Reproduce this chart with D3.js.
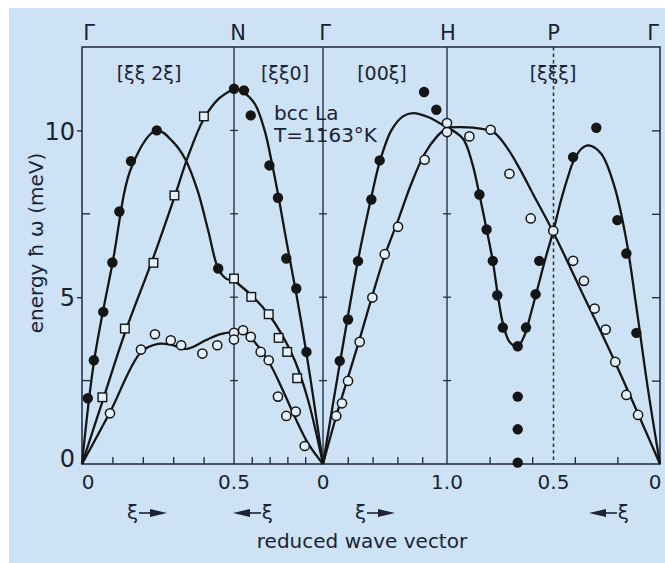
<!DOCTYPE html>
<html><head><meta charset="utf-8">
<script src="https://cdn.jsdelivr.net/npm/d3@7"></script>
<style>body{margin:0;background:#fff}svg{display:block}</style>
</head><body>
<svg id="c" width="665" height="563"></svg>
<script>
// ================= DATA =================
const directionLabels = ["[ξξ 2ξ]", "[ξξ0]", "[00ξ]", "[ξξξ]"];
const pointLabels = ["Γ", "N", "Γ", "H", "P", "Γ"];
const yTickLabels = [0, 5, 10];
const yMinorTicks = [2.5, 7.5];
// ξ ranges of each segment (start -> end, left to right)
const segDomains = [[0, 0.5], [0.5, 0], [0, 1], [1, 0]];
const xTicks = [[0.1, 0.2, 0.3, 0.4], [0.4, 0.3, 0.2, 0.1], [0.2, 0.4, 0.6, 0.8], [0.8, 0.6, 0.4, 0.2]];
const xTickLabels = [[[0, "0"], [0.5, "0.5"]], [[0, "0"]], [[1, "1.0"]], [[0.5, "0.5"], [0, "0"]]];

// --- segment 1: Γ–N [ξξ2ξ]
const s1Filled = [[0.019,1.97],[0.039,3.11],[0.070,4.56],[0.100,6.04],[0.123,7.57],[0.161,9.08],[0.246,10.0],[0.448,5.86]];
const s1Square = [[0.067,2.0],[0.141,4.06],[0.235,6.03],[0.304,8.05],[0.401,10.42]];
const s1Open = [[0.092,1.52],[0.194,3.43],[0.240,3.89],[0.292,3.71],[0.326,3.56],[0.396,3.31],[0.445,3.56],[0.5,3.93],[0.5,3.73]];
const s1CurveA = [[0,0],[0.04,3.1],[0.1,6.0],[0.165,8.95],[0.246,10.0],[0.3,9.65],[0.339,9.15],[0.38,8.2],[0.415,7.0],[0.448,5.86],[0.475,5.55],[0.5,5.5]];
const s1CurveB = [[0,0],[0.07,1.95],[0.14,3.9],[0.235,6.2],[0.304,8.0],[0.35,9.25],[0.401,10.35],[0.45,10.95],[0.5,11.25]];
const s1CurveC = [[0,0],[0.092,1.55],[0.194,3.35],[0.25,3.6],[0.292,3.58],[0.345,3.45],[0.405,3.7],[0.45,3.88],[0.5,3.96]];

// --- segment 2: N–Γ [ξξ0]
const s2Filled = [[0.5,11.25],[0.444,11.2],[0.406,10.45],[0.301,8.95],[0.253,7.98],[0.206,6.16],[0.15,5.26],[0.093,3.36]];
const s2Square = [[0.5,5.56],[0.403,5.01],[0.305,4.49],[0.249,3.78],[0.201,3.36],[0.145,2.57]];
const s2Open = [[0.449,4.01],[0.406,3.81],[0.35,3.36],[0.305,3.11],[0.253,2.02],[0.206,1.44],[0.153,1.57],[0.103,0.54]];
const s2CurveA = [[0.5,11.25],[0.45,11.15],[0.384,10.8],[0.328,10.0],[0.29,9.1],[0.253,8.1],[0.206,6.7],[0.15,5.1],[0.094,3.35],[0.047,1.72],[0,0]];
const s2CurveB = [[0.5,5.5],[0.403,5.06],[0.309,4.51],[0.234,3.91],[0.159,3.11],[0.084,1.92],[0,0]];
const s2CurveC = [[0.5,3.96],[0.449,4.01],[0.384,3.66],[0.309,3.11],[0.234,2.31],[0.159,1.42],[0.084,0.62],[0,0]];

// --- segment 3: Γ–H [00ξ]
const s3Filled = [[0.135,3.09],[0.202,4.33],[0.282,6.08],[0.39,7.93],[0.457,9.10],[0.815,11.15],[0.914,10.62]];
const s3Open = [[0.107,1.44],[0.153,1.82],[0.202,2.49],[0.296,3.66],[0.398,4.99],[0.498,6.29],[0.605,7.11],[0.82,9.12],[1.0,10.22],[1.0,9.95]];
const s3CurveA = [[0,0],[0.135,3.0],[0.282,6.1],[0.39,8.0],[0.457,9.05],[0.551,10.0],[0.645,10.42],[0.726,10.52],[0.847,10.4],[1.0,10.08]];
const s3CurveB = [[0,0],[0.107,1.44],[0.202,2.6],[0.296,3.75],[0.398,5.05],[0.498,6.25],[0.605,7.3],[0.712,8.4],[0.82,9.3],[0.927,9.85],[1,10.08]];

// --- segment 4: H–P–Γ [ξξξ]
const s4Filled = [[0.848,8.08],[0.814,7.03],[0.785,6.09],[0.764,5.06],[0.738,4.09],[0.668,3.53],[0.629,4.09],[0.584,5.09],[0.567,6.09],[0.668,2.02],[0.668,1.04],[0.668,0.04],[0.408,9.2],[0.299,10.08],[0.2,7.31],[0.158,6.31],[0.111,3.93]];
const s4Open = [[0.895,9.82],[0.795,10.02],[0.707,8.7],[0.607,7.36],[0.501,6.99],[0.408,6.09],[0.357,5.49],[0.307,4.66],[0.255,4.03],[0.21,3.06],[0.158,2.07],[0.103,1.47]];
const s4CurveA = [[1.0,10.09],[0.925,9.75],[0.883,9.05],[0.848,8.08],[0.814,7.03],[0.785,6.08],[0.762,5.09],[0.737,4.2],[0.705,3.65],[0.668,3.53],[0.634,3.89],[0.606,4.52],[0.577,5.21],[0.540,6.11],[0.501,6.98],[0.465,7.9],[0.43,8.65],[0.408,9.05],[0.369,9.45],[0.335,9.55],[0.276,9.3],[0.213,8.3],[0.158,6.71],[0.111,4.71],[0.056,2.22],[0,0]];
const s4CurveB = [[1.0,10.09],[0.876,10.08],[0.783,9.95],[0.72,9.5],[0.657,8.83],[0.595,8.08],[0.501,6.95],[0.369,5.18],[0.213,3.08],[0,0]];

// ================= LAYOUT =================
const svg = d3.select("#c");
const W = 665, H = 563;
const bounds = [82, 234, 323, 447, 660];
const plotTop = 47, plotBottom = 464;
const INK = "#151515", FRAME = "#26304a", BG = "#cde3f5", TXT = "#1b2235";
const FONT = "'DejaVu Sans', sans-serif";

svg.append("rect").attr("width", W).attr("height", H).attr("fill", "#ffffff");
svg.append("rect").attr("x", 9).attr("y", 8).attr("width", W - 9).attr("height", H - 8).attr("fill", BG);

const y = d3.scaleLinear().domain([0, 12.5]).range([plotBottom, plotTop]);
const xs = segDomains.map((d, i) => d3.scaleLinear().domain(d).range([bounds[i], bounds[i + 1]]));

// frame
svg.append("rect").attr("x", bounds[0]).attr("y", plotTop)
  .attr("width", bounds[4] - bounds[0]).attr("height", plotBottom - plotTop)
  .attr("fill", "none").attr("stroke", FRAME).attr("stroke-width", 1.6);

// internal vertical lines (N, Γ, H solid; P dashed)
[1, 2, 3].forEach(i => {
  svg.append("line").attr("x1", bounds[i]).attr("x2", bounds[i]).attr("y1", plotTop).attr("y2", plotBottom)
    .attr("stroke", FRAME).attr("stroke-width", 1.4);
  [2.5, 5, 7.5, 10].forEach(v => {
    svg.append("line").attr("x1", bounds[i] - 4).attr("x2", bounds[i] + 4).attr("y1", y(v)).attr("y2", y(v))
      .attr("stroke", FRAME).attr("stroke-width", 1.3);
  });
});
const xP = xs[3](0.5);
svg.append("line").attr("x1", xP).attr("x2", xP).attr("y1", plotTop).attr("y2", plotBottom)
  .attr("stroke", FRAME).attr("stroke-width", 1.5).attr("stroke-dasharray", "3.5,3");

// bottom ticks (inward) and labels
xs.forEach((sc, i) => {
  const g = svg.append("g").attr("transform", `translate(0,${plotBottom})`)
    .call(d3.axisBottom(sc).tickValues(xTicks[i]).tickSizeInner(-7).tickSizeOuter(0).tickFormat(""));
  g.select(".domain").remove();
  g.selectAll("line").attr("stroke", FRAME).attr("stroke-width", 1.4);
  xTickLabels[i].forEach(([v, t]) => {
    let px = sc(v);
    if (px <= bounds[0] + 1) px += 6;
    if (px >= bounds[4] - 1) px -= 5;
    svg.append("text").attr("x", px).attr("y", 489).attr("text-anchor", "middle")
      .attr("font-family", FONT).attr("font-size", 20).attr("fill", TXT).text(t);
  });
});

// left axis
const gl = svg.append("g").attr("transform", `translate(${bounds[0]},0)`)
  .call(d3.axisLeft(y).tickValues(yTickLabels).tickSizeInner(5).tickSizeOuter(0).tickPadding(2).tickFormat(d3.format("d")));
gl.select(".domain").remove();
gl.selectAll("line").attr("stroke", FRAME).attr("stroke-width", 1.4);
gl.selectAll("text").attr("font-family", FONT).attr("font-size", 24).attr("fill", TXT).attr("dy", "0.36em");
gl.selectAll(".tick").filter(d => d === 0).select("line").remove();
gl.selectAll(".tick").filter(d => d === 0).select("text").attr("dy", "0.1em");
yMinorTicks.forEach(v => {
  svg.append("line").attr("x1", bounds[0]).attr("x2", bounds[0] + 8).attr("y1", y(v)).attr("y2", y(v))
    .attr("stroke", FRAME).attr("stroke-width", 1.4);
});
// right axis (inward ticks)
const gr = svg.append("g").attr("transform", `translate(${bounds[4]},0)`)
  .call(d3.axisRight(y).tickValues([2.5, 5, 7.5, 10]).tickSizeInner(-8).tickSizeOuter(0).tickFormat(""));
gr.select(".domain").remove();
gr.selectAll("line").attr("stroke", FRAME).attr("stroke-width", 1.4);

// curves
const curves = [
  [0, s1CurveA], [0, s1CurveB], [0, s1CurveC],
  [1, s2CurveA], [1, s2CurveB], [1, s2CurveC],
  [2, s3CurveA], [2, s3CurveB],
  [3, s4CurveA], [3, s4CurveB]
];
curves.forEach(([i, data]) => {
  const line = d3.line().x(d => xs[i](d[0])).y(d => y(d[1])).curve(d3.curveCatmullRom.alpha(0.5));
  const sorted = data.slice().sort((a, b) => xs[i](a[0]) - xs[i](b[0]));
  svg.append("path").attr("d", line(sorted)).attr("fill", "none")
    .attr("stroke", INK).attr("stroke-width", 2.3).attr("stroke-linejoin", "round");
});

// markers
function filled(i, data) {
  svg.append("g").selectAll("circle").data(data).join("circle")
    .attr("cx", d => xs[i](d[0])).attr("cy", d => y(d[1])).attr("r", 5.2).attr("fill", INK);
}
function open(i, data) {
  svg.append("g").selectAll("circle").data(data).join("circle")
    .attr("cx", d => xs[i](d[0])).attr("cy", d => y(d[1])).attr("r", 4.6)
    .attr("fill", "#e4f0fa").attr("stroke", INK).attr("stroke-width", 1.5);
}
function square(i, data) {
  svg.append("g").selectAll("rect").data(data).join("rect")
    .attr("x", d => xs[i](d[0]) - 4.3).attr("y", d => y(d[1]) - 4.3).attr("width", 8.6).attr("height", 8.6)
    .attr("fill", "#e4f0fa").attr("stroke", INK).attr("stroke-width", 1.4);
}
square(0, s1Square); square(1, s2Square);
open(0, s1Open); open(1, s2Open); open(2, s3Open); open(3, s4Open);
filled(0, s1Filled); filled(1, s2Filled); filled(2, s3Filled); filled(3, s4Filled);

// top symmetry-point labels
const pointX = [bounds[0], bounds[1], bounds[2], bounds[3], xP, bounds[4]];
const pointDx = [7, 4, 2, 1, 0, -7];
pointLabels.forEach((t, k) => {
  svg.append("text").attr("x", pointX[k] + pointDx[k]).attr("y", 40).attr("text-anchor", "middle")
    .attr("font-family", FONT).attr("font-size", 21).attr("fill", TXT).text(t);
});

// direction labels
const dirX = [149, 285, 382, 553];
directionLabels.forEach((t, k) => {
  svg.append("text").attr("x", dirX[k]).attr("y", 80).attr("text-anchor", "middle")
    .attr("font-family", FONT).attr("font-size", 19).attr("fill", TXT).text(t);
});

// annotation
svg.append("text").attr("x", 274).attr("y", 120).attr("font-family", FONT).attr("font-size", 20)
  .attr("fill", TXT).text("bcc La");
svg.append("text").attr("x", 274).attr("y", 142).attr("font-family", FONT).attr("font-size", 20)
  .attr("fill", TXT).text("T=1163°K");

// y label
svg.append("text").attr("transform", "translate(43,243) rotate(-90)").attr("text-anchor", "middle")
  .attr("font-family", FONT).attr("font-size", 20).attr("fill", TXT).text("energy ħ ω (meV)");

// x label
svg.append("text").attr("x", 362).attr("y", 548).attr("text-anchor", "middle")
  .attr("font-family", FONT).attr("font-size", 20).attr("fill", TXT).text("reduced wave vector");

// ξ arrows
function xiArrow(x, dir) {
  const yy = 513;
  const g = svg.append("g").attr("fill", TXT);
  if (dir > 0) {
    g.append("text").attr("x", x).attr("y", yy + 6).attr("font-family", FONT).attr("font-size", 20).text("ξ");
    g.append("line").attr("x1", x + 12).attr("x2", x + 26).attr("y1", yy).attr("y2", yy).attr("stroke", TXT).attr("stroke-width", 1.6);
    g.append("path").attr("d", `M${x + 23},${yy - 4}L${x + 40},${yy}L${x + 23},${yy + 4}Z`);
  } else {
    g.append("text").attr("x", x).attr("y", yy + 6).attr("text-anchor", "end").attr("font-family", FONT).attr("font-size", 20).text("ξ");
    g.append("line").attr("x1", x - 12).attr("x2", x - 26).attr("y1", yy).attr("y2", yy).attr("stroke", TXT).attr("stroke-width", 1.6);
    g.append("path").attr("d", `M${x - 23},${yy - 4}L${x - 40},${yy}L${x - 23},${yy + 4}Z`);
  }
}
xiArrow(127, 1); xiArrow(273, -1); xiArrow(355, 1); xiArrow(629, -1);
</script>
</body></html>
